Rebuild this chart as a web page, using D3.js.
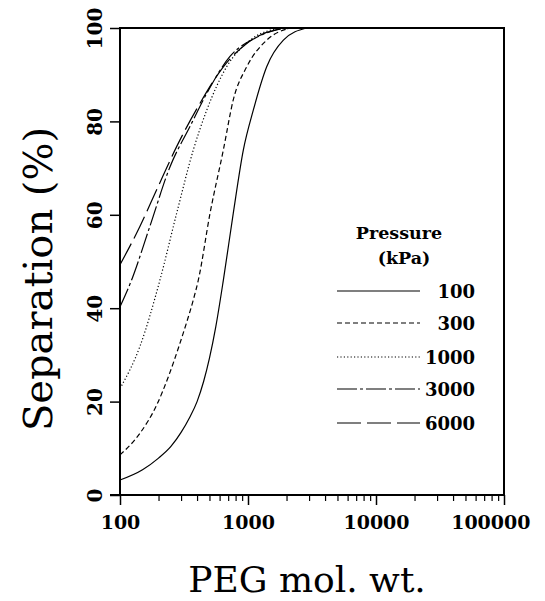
<!DOCTYPE html>
<html>
<head>
<meta charset="utf-8">
<script src="https://cdn.jsdelivr.net/npm/d3@7"></script>
<style>
  html, body { margin: 0; padding: 0; background: #fff; }
  svg { display: block; }
</style>
</head>
<body>
<svg id="chart" width="545" height="601"></svg>
<script>
// ---- data ----
const pressures = ["100", "300", "1000", "3000", "6000"];
const mw100  = [100, 150, 200, 250, 300, 350, 400, 450, 500, 560, 642, 767, 920, 1100, 1400, 1890, 2870];
const sep100 = [3.2, 5.4, 7.9, 10.4, 13.4, 16.6, 20, 24.3, 29.3, 36, 46, 60.3, 73.9, 82.4, 91.7, 97.4, 100];
const mw300  = [100, 143, 193, 240, 290, 332, 374, 409, 505, 642, 767, 978, 1400, 2130];
const sep300 = [8.6, 13.2, 19.2, 25.5, 32, 37, 41.8, 46, 60.3, 73.9, 84.6, 91.7, 97.4, 100];
const mw1000  = [100, 143, 205, 277, 374, 476, 681, 1040, 1780];
const sep1000 = [22.8, 31.8, 46, 60.3, 73.9, 82.4, 91.7, 97.4, 100];
const mw3000  = [100, 123, 171, 246, 352, 476, 723, 1170, 1880];
const sep3000 = [40.3, 46, 57.5, 70.3, 78.9, 86, 93.9, 98, 100];
const mw6000  = [100, 143, 193, 277, 422, 642, 978, 1670, 2500];
const sep6000 = [49.3, 57.5, 65.3, 74.6, 83.9, 91.7, 96.7, 99.6, 100];
const xTicks = [100, 1000, 10000, 100000];
const yTicks = [0, 20, 40, 60, 80, 100];

const seriesMW  = [mw100, mw300, mw1000, mw3000, mw6000];
const seriesSep = [sep100, sep300, sep1000, sep3000, sep6000];
const dashes = [null, "5,3", "1.2,2.2", "20,3,3,3", "24,6"];

// ---- layout ----
const svg = d3.select("#chart");
const L = 120, R = 504, T = 28, B = 495;
const x = d3.scaleLog().domain([100, 100000]).range([L, R]);
const y = d3.scaleLinear().domain([0, 100]).range([B, T]);
const serif = "'DejaVu Serif', serif";

// minor + major x ticks
const minor = [];
for (let d = 100; d < 100000; d *= 10) for (let k = 2; k <= 9; k++) minor.push(d * k);

const xAxis = svg.append("g").attr("transform", `translate(0,${B})`)
  .call(d3.axisBottom(x).tickValues(minor).tickSize(6).tickFormat(""));
xAxis.select(".domain").remove();
xAxis.selectAll("line").attr("stroke", "#000").attr("stroke-width", 1.2);

const xAxisMaj = svg.append("g").attr("transform", `translate(0,${B})`)
  .call(d3.axisBottom(x).tickValues(xTicks).tickSize(10).tickFormat(d3.format("d")));
xAxisMaj.select(".domain").remove();
xAxisMaj.selectAll("line").attr("stroke", "#000").attr("stroke-width", 1.5);
xAxisMaj.selectAll("text").attr("font-family", serif).attr("font-weight", "bold")
  .attr("font-size", 19).attr("fill", "#000").attr("dy", null).attr("y", 34);
xAxisMaj.selectAll("text").filter(d => d === 100000).attr("text-anchor", "end").attr("x", 26);

const yAxis = svg.append("g").attr("transform", `translate(${L},0)`)
  .call(d3.axisLeft(y).tickValues(yTicks).tickSize(10).tickFormat(d3.format("d")));
yAxis.select(".domain").remove();
yAxis.selectAll("line").attr("stroke", "#000").attr("stroke-width", 1.5);
yAxis.selectAll("text").attr("font-family", serif).attr("font-weight", "bold")
  .attr("font-size", 20).attr("fill", "#000")
  .attr("x", null).attr("dy", null)
  .attr("text-anchor", "middle")
  .attr("transform", "translate(-18,0) rotate(-90)");

// frame
svg.append("rect").attr("x", L).attr("y", T).attr("width", R - L).attr("height", B - T)
  .attr("fill", "none").attr("stroke", "#000").attr("stroke-width", 2);
svg.append("line").attr("x1", L - 10).attr("x2", L).attr("y1", B).attr("y2", B)
  .attr("stroke", "#000").attr("stroke-width", 2);

// curves
const line = d3.line().x(d => x(d[0])).y(d => y(d[1])).curve(d3.curveMonotoneX);
seriesMW.forEach((mw, i) => {
  const pts = mw.map((m, j) => [m, seriesSep[i][j]]);
  svg.append("path").datum(pts).attr("d", line)
    .attr("fill", "none").attr("stroke", "#000").attr("stroke-width", 1.2)
    .attr("stroke-dasharray", dashes[i]);
});

// legend
svg.append("text").attr("x", 399).attr("y", 239).attr("text-anchor", "middle")
  .attr("font-family", serif).attr("font-weight", "bold").attr("font-size", 17.5).text("Pressure");
svg.append("text").attr("x", 404).attr("y", 264).attr("text-anchor", "middle")
  .attr("font-family", serif).attr("font-weight", "bold").attr("font-size", 17.5).text("(kPa)");
const rowY = [291, 323, 357, 389, 423];
pressures.forEach((p, i) => {
  svg.append("line").attr("x1", 337).attr("x2", 420).attr("y1", rowY[i]).attr("y2", rowY[i])
    .attr("stroke", "#000").attr("stroke-width", 1.2).attr("stroke-dasharray", dashes[i]);
  svg.append("text").attr("x", 475).attr("y", rowY[i] + 7).attr("text-anchor", "end")
    .attr("font-family", serif).attr("font-weight", "bold").attr("font-size", 18).text(p);
});

// axis titles
svg.append("text").attr("transform", "translate(52,279) rotate(-90)")
  .attr("text-anchor", "middle").attr("font-family", serif).attr("font-size", 40)
  .text("Separation (%)");
svg.append("text").attr("x", 307).attr("y", 592).attr("text-anchor", "middle")
  .attr("font-family", serif).attr("font-size", 36).text("PEG mol. wt.");
</script>
</body>
</html>
